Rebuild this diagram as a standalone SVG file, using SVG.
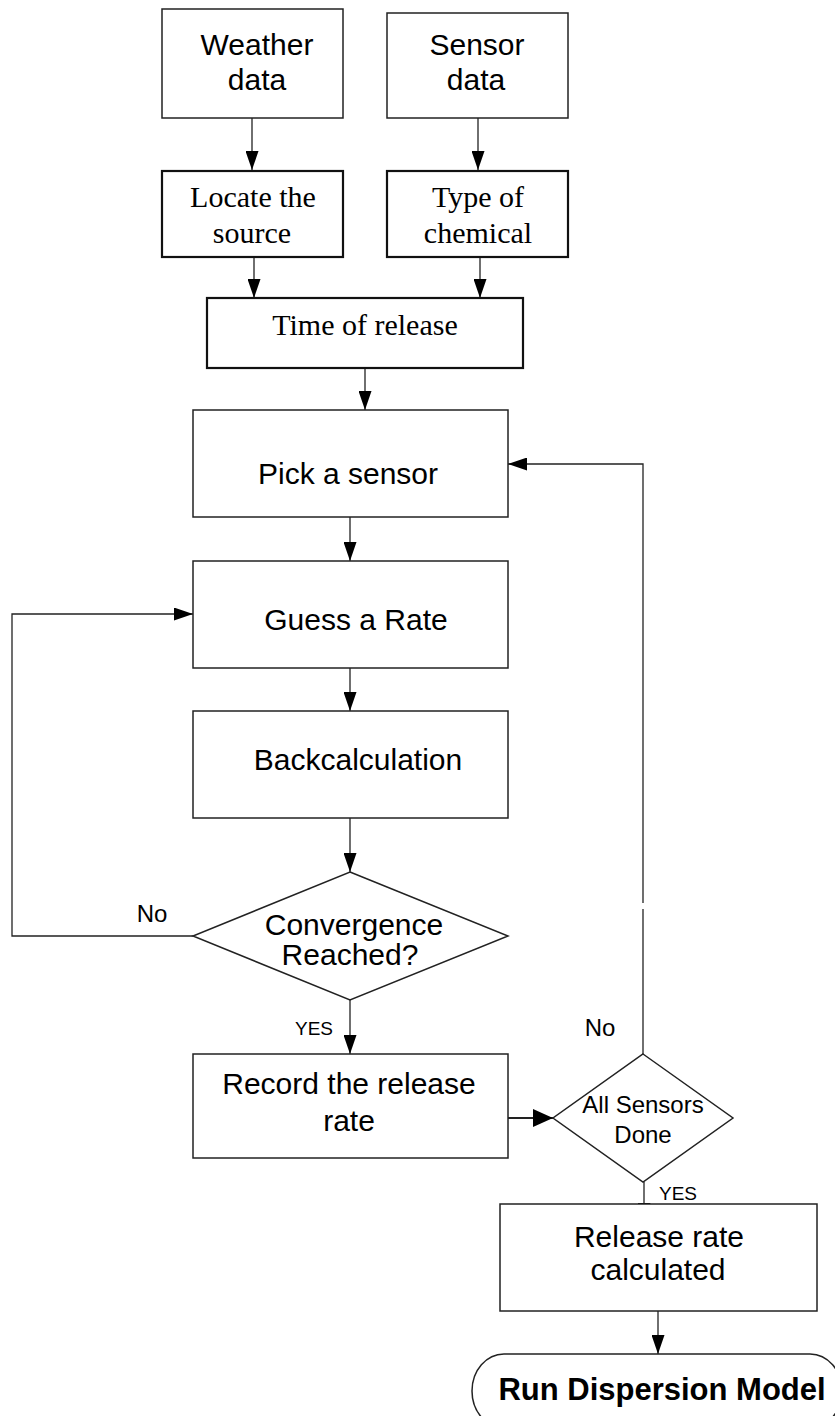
<svg xmlns="http://www.w3.org/2000/svg" width="835" height="1416" viewBox="0 0 835 1416">
<style>
.box{fill:#fff;stroke:#222;stroke-width:1.5}
.tbox{fill:#fff;stroke:#111;stroke-width:2.2}
.sans{font-family:"Liberation Sans",Arial,sans-serif;font-size:30px;fill:#000;text-anchor:middle}
.serif{font-family:"Liberation Serif","Times New Roman",serif;font-size:30px;fill:#000;text-anchor:middle}
.lbl{font-family:"Liberation Sans",Arial,sans-serif;font-size:19px;fill:#000;text-anchor:middle}
.no{font-family:"Liberation Sans",Arial,sans-serif;font-size:24px;fill:#000;text-anchor:middle}
.c{fill:none;stroke:#222;stroke-width:1.3}
</style>
<defs>
<marker id="ah" markerUnits="userSpaceOnUse" markerWidth="19" markerHeight="13" refX="19" refY="6.5" orient="auto">
<path d="M0,0 L19,6.5 L0,13 Z" fill="#000"/>
</marker>
<marker id="ahb" markerUnits="userSpaceOnUse" markerWidth="20" markerHeight="18" refX="20" refY="9" orient="auto">
<path d="M0,0 L20,9 L0,18 Z" fill="#000"/>
</marker>
</defs>
<rect width="835" height="1416" fill="#fff"/>
<g id="connectors">
<path class="c" d="M252,118 L252,170" marker-end="url(#ah)"/>
<path class="c" d="M478,118 L478,170" marker-end="url(#ah)"/>
<path class="c" d="M254,257 L254,298" marker-end="url(#ah)"/>
<path class="c" d="M480,257 L480,298" marker-end="url(#ah)"/>
<path class="c" d="M365,368 L365,410" marker-end="url(#ah)"/>
<path class="c" d="M350,517 L350,561" marker-end="url(#ah)"/>
<path class="c" d="M350,668 L350,711" marker-end="url(#ah)"/>
<path class="c" d="M350,818 L350,872" marker-end="url(#ah)"/>
<path class="c" d="M350,1000 L350,1054" marker-end="url(#ah)"/>
<path class="c" d="M193,936 L12,936 L12,614 L193,614" marker-end="url(#ah)"/>
<path class="c" style="stroke-width:2" d="M508,1118 L553,1118" marker-end="url(#ahb)"/>
<path class="c" d="M643,1054 L643,909"/>
<path class="c" d="M643,903 L643,464 L508,464" marker-end="url(#ah)"/>
<path class="c" d="M644,1182 L644,1222" marker-end="url(#ah)"/>
<path class="c" d="M658,1311 L658,1354" marker-end="url(#ah)"/>
<text class="lbl" x="314" y="1035">YES</text>
<text class="lbl" x="678" y="1200">YES</text>
<text class="no" x="152" y="922">No</text>
<text class="no" x="600" y="1036">No</text>
</g>
<g id="weather">
<rect class="box" x="162" y="9" width="181" height="109"/>
<text class="sans" x="257" y="55">Weather</text>
<text class="sans" x="257" y="90">data</text>
</g>
<g id="sensor">
<rect class="box" x="387" y="13" width="181" height="105"/>
<text class="sans" x="477" y="55">Sensor</text>
<text class="sans" x="476" y="90">data</text>
</g>
<g id="locate">
<rect class="tbox" x="162" y="171" width="181" height="86"/>
<text class="serif" x="253" y="207">Locate the</text>
<text class="serif" x="252" y="243">source</text>
</g>
<g id="type">
<rect class="tbox" x="387" y="171" width="181" height="86"/>
<text class="serif" x="478" y="207">Type of</text>
<text class="serif" x="478" y="243">chemical</text>
</g>
<g id="time">
<rect class="tbox" x="207" y="298" width="316" height="70"/>
<text class="serif" x="365" y="335">Time of release</text>
</g>
<g id="pick">
<rect class="box" x="193" y="410" width="315" height="107"/>
<text class="sans" x="348" y="484">Pick a sensor</text>
</g>
<g id="guess">
<rect class="box" x="193" y="561" width="315" height="107"/>
<text class="sans" x="356" y="630">Guess a Rate</text>
</g>
<g id="back">
<rect class="box" x="193" y="711" width="315" height="107"/>
<text class="sans" x="358" y="770">Backcalculation</text>
</g>
<g id="converge">
<polygon class="box" points="350,872 508,936 350,1000 193,936"/>
<text class="sans" x="354" y="935">Convergence</text>
<text class="sans" x="350" y="965">Reached?</text>
</g>
<g id="record">
<rect class="box" x="193" y="1054" width="315" height="104"/>
<text class="sans" x="349" y="1094">Record the release</text>
<text class="sans" x="349" y="1131">rate</text>
</g>
<g id="allsensors">
<polygon class="box" points="643,1054 733,1118 643,1182 553,1118"/>
<text class="sans" style="font-size:24px" x="643" y="1113">All Sensors</text>
<text class="sans" style="font-size:24px" x="643" y="1143">Done</text>
</g>
<g id="release">
<rect class="box" x="500" y="1204" width="317" height="107"/>
<text class="sans" x="659" y="1247">Release rate</text>
<text class="sans" x="658" y="1280">calculated</text>
</g>
<g id="run">
<rect class="box" x="472" y="1354" width="370" height="74" rx="32" ry="37"/>
<text class="sans" style="font-weight:bold;font-size:31px" x="662" y="1400">Run Dispersion Model</text>
</g>
</svg>
